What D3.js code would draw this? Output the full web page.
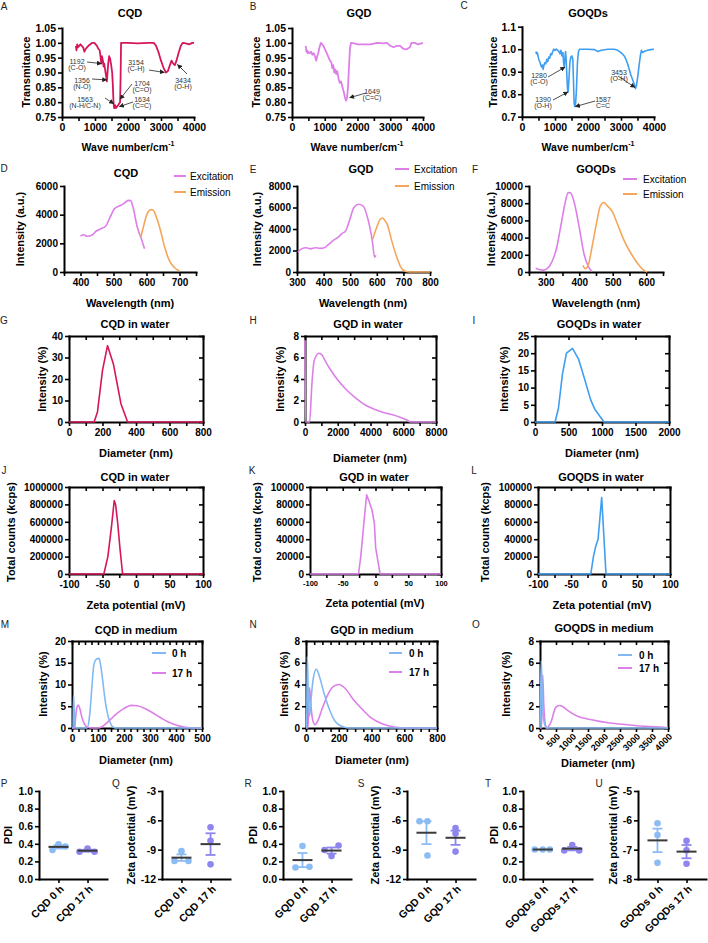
<!DOCTYPE html>
<html>
<head>
<meta charset="utf-8">
<title>Quantum dot characterisation</title>
<script src="https://d3js.org/d3.v7.min.js"></script>
<style>
  body { margin: 0; background: #fff; }
  svg text { font-family: "Liberation Sans", Arial, Helvetica, sans-serif; }
</style>
</head>
<body>
<div id="fig"></div>
<script>
// ---------- data ----------
// FTIR transmittance [wave number, T]
var cqdFtir = [[420,0.99],[440,0.975],[460,0.995],[480,0.985],[520,0.99],[560,0.995],[600,0.99],[640,0.985],[680,0.97],[720,0.98],[760,0.985],[800,0.99],[860,0.995],[920,1.0],[980,1.0],[1020,0.995],[1060,0.99],[1100,0.98],[1140,0.975],[1160,0.96],[1190,0.93],[1210,0.955],[1240,0.94],[1260,0.92],[1280,0.93],[1300,0.915],[1320,0.9],[1340,0.885],[1360,0.87],[1380,0.9],[1400,0.93],[1430,0.955],[1460,0.945],[1490,0.925],[1520,0.9],[1540,0.86],[1560,0.8],[1580,0.78],[1610,0.79],[1640,0.78],[1670,0.785],[1700,0.79],[1730,0.795],[1760,0.8],[1775,0.88],[1790,1.0],[2000,1.0],[2300,0.998],[2600,1.0],[2780,1.0],[2850,0.99],[2920,0.97],[3000,0.94],[3080,0.915],[3150,0.9],[3210,0.905],[3270,0.925],[3320,0.94],[3370,0.93],[3420,0.925],[3470,0.94],[3530,0.965],[3600,0.99],[3660,1.0],[3750,0.998],[3850,0.995],[3950,1.0],[4000,1.0]];
var gqdFtir = [[420,0.99],[440,0.97],[460,0.975],[480,0.965],[500,0.97],[540,0.965],[580,0.97],[620,0.96],[660,0.965],[700,0.955],[740,0.94],[770,0.955],[800,0.965],[840,0.985],[880,1.0],[920,0.995],[960,0.99],[1000,0.98],[1040,0.97],[1080,0.96],[1120,0.95],[1160,0.94],[1200,0.935],[1230,0.915],[1260,0.925],[1290,0.9],[1320,0.91],[1350,0.895],[1380,0.905],[1420,0.88],[1460,0.865],[1500,0.87],[1540,0.85],[1580,0.835],[1620,0.815],[1650,0.805],[1680,0.815],[1710,0.85],[1740,0.92],[1770,0.98],[1800,1.0],[1900,0.998],[2000,0.995],[2200,0.995],[2400,0.995],[2600,1.0],[2800,0.998],[2900,1.0],[3000,0.99],[3100,0.985],[3200,0.99],[3300,0.99],[3400,0.98],[3500,0.978],[3600,0.985],[3650,1.0],[3750,1.0],[3850,0.995],[4000,1.0]];
var goqdFtir = [[420,0.99],[440,0.98],[460,0.985],[480,0.975],[500,0.96],[520,0.95],[550,0.94],[580,0.925],[600,0.92],[620,0.93],[640,0.91],[660,0.925],[690,0.94],[720,0.935],[750,0.955],[780,0.945],[810,0.965],[840,0.96],[870,0.98],[900,0.975],[930,0.99],[960,1.0],[1000,0.995],[1040,1.0],[1080,0.995],[1120,0.99],[1150,0.98],[1180,0.995],[1210,0.97],[1240,0.985],[1260,0.94],[1280,0.92],[1300,0.96],[1320,0.99],[1340,0.95],[1360,0.88],[1380,0.82],[1400,0.81],[1420,0.86],[1450,0.94],[1480,0.965],[1510,0.97],[1540,0.955],[1560,0.86],[1580,0.76],[1600,0.745],[1620,0.75],[1650,0.82],[1680,0.94],[1710,0.99],[1750,1.0],[2000,1.0],[2200,0.998],[2300,0.99],[2400,0.995],[2600,1.0],[2800,1.0],[2900,0.995],[3000,0.985],[3100,0.97],[3150,0.955],[3200,0.935],[3250,0.91],[3300,0.885],[3350,0.865],[3400,0.845],[3440,0.825],[3470,0.84],[3510,0.88],[3550,0.93],[3590,0.975],[3620,0.995],[3660,0.985],[3700,0.99],[3800,0.995],[3900,0.998],[4000,1.0]];

// photoluminescence [wavelength nm, intensity a.u.]
var cqdExc = [[400,2510],[410,2600],[420,2490],[434,2560],[448,2860],[462,3020],[476,3190],[490,3840],[503,4420],[517,4600],[531,4770],[545,5000],[552,4980],[559,4530],[572,3140],[586,2210],[594,1630]];
var cqdEm = [[583,2440],[593,3370],[600,3950],[614,4350],[621,4300],[628,3950],[641,3020],[655,1740],[669,810],[683,350],[700,70]];
var gqdExc = [[303,1850],[317,2150],[334,2250],[351,2150],[368,2250],[386,2200],[403,2250],[420,2600],[437,2950],[454,3230],[470,3600],[482,3800],[497,4770],[514,6000],[531,6300],[548,6150],[565,5080],[583,2920],[592,1380],[597,1540]];
var gqdEm = [[585,3080],[596,3900],[605,4500],[613,4900],[622,5020],[630,4800],[639,4460],[656,2920],[673,1540],[690,460],[707,60],[724,0],[800,0]];
var goqdExc = [[270,450],[280,300],[292,220],[304,385],[318,1150],[333,2880],[346,5580],[357,7880],[367,9230],[374,9200],[385,8080],[400,5190],[414,2120],[428,580],[438,80]];
var goqdEm = [[411,770],[418,385],[428,960],[438,2880],[452,5770],[463,7690],[473,8080],[484,7690],[500,6920],[514,5580],[534,3650],[555,2120],[575,960],[593,190],[603,0]];

// DLS size distribution in water [diameter nm, intensity %]
var cqdWater = [[0,0],[150,0],[170,4.7],[200,24],[230,35.5],[265,27],[310,8.5],[350,0],[800,0]];
var gqdWater = [[0,7.6],[30,0],[280,0],[420,3.5],[560,5.7],[850,6.4],[1050,6.2],[1300,5.5],[1500,5.0],[2000,3.9],[2560,2.95],[3120,2.2],[3680,1.58],[4230,1.19],[4790,0.88],[5350,0.67],[5770,0.46],[6180,0.2],[6460,0],[8000,0]];
var goqdWater = [[0,0],[300,0],[350,4],[410,14],[470,20],[560,21.4],[650,18.3],[740,12.5],[830,6.5],[890,3.8],[1030,0],[2000,0]];

// zeta potential distribution [mV, total counts kcps]
var cqdZeta = [[-100,0],[-48,0],[-42,200000],[-36.5,550000],[-32.5,845000],[-30.5,800000],[-27.5,600000],[-24,300000],[-20,0],[100,0]];
var gqdZeta = [[-100,0],[-26,0],[-22.5,20000],[-17.6,60000],[-13.5,91000],[-10,84000],[-5.2,73000],[-1.7,58000],[0.3,30000],[7,0],[100,0]];
var goqdZeta = [[-100,0],[-20,0],[-16,20000],[-12.5,32000],[-9,40000],[-3.5,88000],[3,0],[100,0]];

// DLS size distribution in medium, 0 h and 17 h
var cqdMed0 = [[0,0],[4,0],[6,7.5],[9,3],[12,0],[58,0],[68,3],[76,9],[84,14.5],[92,15.7],[104,16],[110,14.5],[118,11],[126,7],[134,4],[145,1.5],[158,0.2],[168,0],[500,0]];
var cqdMed17 = [[0,0],[10,0],[14,2.5],[19,4.8],[24,5.3],[30,4.5],[38,2.5],[48,0.9],[60,0.2],[75,0],[100,0],[115,0.3],[140,1.5],[170,3.2],[200,4.5],[228,5.2],[250,5.1],[280,4.5],[310,3.5],[340,2.4],[370,1.4],[400,0.7],[430,0.25],[460,0.05],[480,0],[500,0]];
var gqdMed0 = [[0,0],[4,0],[8,6.6],[14,3],[22,1.1],[30,2.5],[45,4.6],[63,5.4],[83,4.7],[110,3.2],[138,1.9],[179,0.6],[235,0.06],[262,0],[800,0]];
var gqdMed17 = [[0,0],[12,0],[18,2.5],[22,3.7],[28,2.5],[40,0.8],[55,0.3],[70,0.6],[97,1.7],[138,3.2],[170,3.85],[200,4.0],[235,3.7],[290,2.6],[345,1.7],[400,0.9],[469,0.36],[538,0.09],[621,0],[800,0]];
var goqdMed0 = [[0,0],[15,2],[40,6.2],[70,3],[110,0.9],[160,0.2],[220,0],[4000,0]];
var goqdMed17 = [[0,0],[50,0],[84,4.9],[120,2],[170,0.3],[210,0],[280,0.2],[350,0.6],[490,1.9],[600,2.07],[720,1.95],[840,1.67],[1190,1.06],[1610,0.76],[2175,0.46],[2740,0.3],[3300,0.15],[3860,0.06],[4000,0.02]];

// PDI and zeta potential replicates (0 h, 17 h)
var pdiCqd = [[0.33,0.395,0.37],[0.31,0.345,0.31]];
var zetaCqd = [[-10.15,-9.15,-10.15],[-6.7,-8.1,-10.5]];
var pdiGqd = [[0.13,0.375,0.14],[0.33,0.26,0.38]];
var zetaGqd = [[-6.1,-6.1,-9.6],[-6.8,-7.35,-9.2]];
var pdiGoqd = [[0.335,0.335,0.335],[0.325,0.385,0.325]];
var zetaGoqd = [[-6.1,-6.5,-7.45],[-6.7,-7.02,-7.48]];

var catsCqd = ["CQD 0 h", "CQD 17 h"];
var catsGqd = ["GQD 0 h", "GQD 17 h"];
var catsGoqd = ["GOQDs 0 h", "GOQDs 17 h"];

// tick values and labels
var ftirXT = d3.range(0, 4001, 500), ftirXL = [0, 1000, 2000, 3000, 4000];
var ftirYT = [0.75, 0.8, 0.85, 0.9, 0.95, 1.0, 1.05];
var goqdFtirYT = [0.7, 0.8, 0.9, 1.0, 1.1];
var cqdPlXT = d3.range(350, 751, 50), cqdPlXL = [400, 500, 600, 700], cqdPlYT = [0, 2000, 4000, 6000];
var gqdPlXT = d3.range(300, 801, 100), gqdPlYT = [0, 2000, 4000, 6000, 8000];
var goqdPlXT = d3.range(250, 651, 50), goqdPlXL = [300, 400, 500, 600], goqdPlYT = [0, 2000, 4000, 6000, 8000, 10000];
var cqdWXT = d3.range(0, 801, 100), cqdWXL = [0, 200, 400, 600, 800], cqdWYT = [0, 10, 20, 30, 40];
var gqdWXT = d3.range(0, 8001, 1000), gqdWXL = [0, 2000, 4000, 6000, 8000], gqdWYT = [0, 2, 4, 6, 8];
var goqdWXT = [0, 500, 1000, 1500, 2000], goqdWYT = [0, 5, 10, 15, 20, 25];
var zetaXT = d3.range(-100, 101, 25), zetaXL = [-100, -50, 0, 50, 100];
var cqdZYT = [0, 200000, 400000, 600000, 800000, 1000000], zYT = [0, 20000, 40000, 60000, 80000, 100000];
var cqdMXT = d3.range(0, 501, 25), cqdMXL = [0, 100, 200, 300, 400, 500], cqdMYT = [0, 5, 10, 15, 20];
var gqdMXT = d3.range(0, 801, 50), gqdMXL = [0, 200, 400, 600, 800], medYT = [0, 2, 4, 6, 8];
var goqdMXT = d3.range(0, 4001, 500);
var pdiYT = [0, 0.2, 0.4, 0.6, 0.8, 1.0], zetaYT = [-12, -9, -6, -3], goqdZetaYT = [-8, -7, -6, -5];

// ---------- drawing ----------
var cCqd = "#d5165c", cGqd = "#dd7fe8", cGoqd = "#3f9ef0", cEm = "#f4a75b";
var c0h = "#82b9f2", dot0 = "#8cbcf4", dot17 = "#8e86ee";

var svg = d3.select("#fig").append("svg").attr("width", 708).attr("height", 943);
svg.append("rect").attr("width", 708).attr("height", 943).attr("fill", "#fff");
svg.append("defs").append("marker").attr("id", "ah").attr("viewBox", "0 0 10 10")
  .attr("refX", 9).attr("refY", 5).attr("markerWidth", 5).attr("markerHeight", 5)
  .attr("markerUnits", "userSpaceOnUse").attr("orient", "auto")
  .append("path").attr("d", "M0,0L10,5L0,10z").attr("fill", "#222");

function axisStyle(sel, fs) {
  sel.select(".domain").attr("stroke", "#000").attr("stroke-width", 2).attr("stroke-linecap", "square");
  sel.selectAll(".tick line").attr("stroke", "#000").attr("stroke-width", 1.6);
  sel.selectAll(".tick text").attr("fill", "#000").attr("font-size", fs).attr("font-weight", "bold");
}

function txt(x, y, s, fs, o) {
  o = o || {};
  var t = svg.append("text").attr("x", x).attr("y", y)
    .attr("text-anchor", o.anchor || "middle").attr("dominant-baseline", "central")
    .attr("font-size", fs).attr("font-weight", o.bold === false ? "normal" : "bold")
    .attr("fill", o.fill || "#000").text(s);
  if (o.rot) t.attr("transform", "rotate(-90," + x + "," + y + ")");
  return t;
}

function chart(p) {
  var x = d3.scaleLinear().domain(p.xd).range([p.l, p.r]);
  var y = d3.scaleLinear().domain(p.yd).range([p.b, p.t]);
  var g = svg.append("g");
  var fs = p.fs || 10;
  if (p.frame) {
    g.append("g").attr("transform", "translate(0," + p.t + ")")
      .call(d3.axisBottom(x).tickValues(p.xt).tickSize(4).tickSizeOuter(0).tickFormat(""))
      .call(axisStyle, fs);
    g.append("g").attr("transform", "translate(" + p.r + ",0)")
      .call(d3.axisLeft(y).tickValues(p.yt).tickSize(4).tickSizeOuter(0).tickFormat(""))
      .call(axisStyle, fs);
  }
  var xa = g.append("g").attr("transform", "translate(0," + p.b + ")")
    .call(d3.axisBottom(x).tickValues(p.xt).tickSize(4).tickSizeOuter(0).tickPadding(3)
      .tickFormat(function (d) { return p.xl.indexOf(d) >= 0 ? String(d) : ""; }))
    .call(axisStyle, p.xfs || fs);
  if (p.rot) {
    xa.selectAll(".tick text").attr("text-anchor", "end").attr("y", 0).attr("dy", "0.35em")
      .attr("transform", "translate(2,7) rotate(-45)");
  }
  g.append("g").attr("transform", "translate(" + p.l + ",0)")
    .call(d3.axisLeft(y).tickValues(p.yt).tickSize(4).tickSizeOuter(0).tickPadding(2)
      .tickFormat(p.yf || String))
    .call(axisStyle, fs);
  p.series.forEach(function (s) {
    g.append("path").datum(s.d).attr("fill", "none").attr("stroke", s.c)
      .attr("stroke-width", s.w || 1.6).attr("stroke-linejoin", "round")
      .attr("d", d3.line().x(function (d) { return x(d[0]); }).y(function (d) { return y(d[1]); })
        .curve(s.smooth ? d3.curveMonotoneX : d3.curveLinear));
  });
  (p.notes || []).forEach(function (n) {
    txt(n.tx, n.ty, n.a, 7, { bold: false, fill: "#333" });
    txt(n.tx, n.ty + 6.5, n.b, 7, { bold: false, fill: "#333" });
    svg.append("line").attr("x1", n.fx).attr("y1", n.fy)
      .attr("x2", x(n.tip[0])).attr("y2", y(n.tip[1]))
      .attr("stroke", "#222").attr("stroke-width", 0.8).attr("marker-end", "url(#ah)");
  });
  return { x: x, y: y };
}

function legend(items, x1, x2, tx, ys, bold) {
  items.forEach(function (it, i) {
    svg.append("line").attr("x1", x1).attr("x2", x2).attr("y1", ys[i]).attr("y2", ys[i])
      .attr("stroke", it[1]).attr("stroke-width", 2);
    txt(tx, ys[i], it[0], 10, { anchor: "start", bold: bold });
  });
}

function waveLabel(x, y) {
  var t = svg.append("text").attr("x", x).attr("y", y).attr("text-anchor", "middle")
    .attr("dominant-baseline", "central").attr("font-size", 10.5).attr("font-weight", "bold");
  t.append("tspan").text("Wave number/cm");
  t.append("tspan").attr("dy", -4).attr("font-size", 7).text("-1");
}

function dots(p) {
  var x = d3.scalePoint().domain(p.cats).range([p.l, p.r]).padding(0.67);
  var y = d3.scaleLinear().domain(p.yd).range([p.b, p.t]);
  var g = svg.append("g");
  g.append("g").attr("transform", "translate(0," + p.b + ")")
    .call(d3.axisBottom(x).tickSize(4).tickSizeOuter(0))
    .call(axisStyle, 10.5)
    .selectAll(".tick text").attr("text-anchor", "end").attr("y", 0).attr("dy", "0.35em")
    .attr("transform", "translate(3,8) rotate(-45)");
  g.append("g").attr("transform", "translate(" + p.l + ",0)")
    .call(d3.axisLeft(y).tickValues(p.yt).tickSize(4).tickSizeOuter(0).tickPadding(2).tickFormat(p.yf))
    .call(axisStyle, 10.5);
  p.groups.forEach(function (vals, i) {
    var cx = x(p.cats[i]), col = i === 0 ? dot0 : dot17;
    var m = d3.mean(vals), se = d3.deviation(vals) / Math.sqrt(vals.length);
    g.selectAll(null).data(vals).enter().append("circle")
      .attr("cx", function (d, j) { return cx + p.jit[i][j]; })
      .attr("cy", function (d) { return y(d); }).attr("r", 3.3).attr("fill", col);
    if (se > 0) {
      g.append("line").attr("x1", cx).attr("x2", cx).attr("y1", y(m + se)).attr("y2", y(m - se))
        .attr("stroke", col).attr("stroke-width", 1.8);
      [m + se, m - se].forEach(function (v) {
        g.append("line").attr("x1", cx - 5).attr("x2", cx + 5).attr("y1", y(v)).attr("y2", y(v))
          .attr("stroke", col).attr("stroke-width", 1.8);
      });
    }
    g.append("line").attr("x1", cx - 10).attr("x2", cx + 10).attr("y1", y(m)).attr("y2", y(m))
      .attr("stroke", "#3a3a3a").attr("stroke-width", 2);
  });
}

var f2 = d3.format(".2f"), f1 = d3.format(".1f");

// ---- row A-C: FTIR ----
chart({ l: 62, r: 194, t: 28, b: 117, xd: [0, 4000], yd: [0.75, 1.05], xt: ftirXT, xl: ftirXL, yt: ftirYT, yf: f2, fs: 10.5,
  series: [{ d: cqdFtir, c: cCqd, w: 1.8 }],
  notes: [
    { a: "1192", b: "(C-O)", tx: 77, ty: 61, fx: 87, fy: 62, tip: [1192, 0.93] },
    { a: "1356", b: "(N-O)", tx: 82, ty: 80, fx: 92, fy: 79, tip: [1356, 0.875] },
    { a: "1563", b: "(N-H/C-N)", tx: 85, ty: 99, fx: 105, fy: 98, tip: [1563, 0.795] },
    { a: "1704", b: "(C=O)", tx: 142, ty: 83, fx: 132, fy: 84, tip: [1760, 0.81] },
    { a: "1634", b: "(C=C)", tx: 142, ty: 99, fx: 133, fy: 102, tip: [1740, 0.785] },
    { a: "3154", b: "(C-H)", tx: 136, ty: 62, fx: 149, fy: 70, tip: [3100, 0.9] },
    { a: "3434", b: "(O-H)", tx: 183, ty: 80, fx: 187, fy: 74, tip: [3500, 0.927] }
  ] });
chart({ l: 292, r: 423, t: 28, b: 117, xd: [0, 4000], yd: [0.75, 1.05], xt: ftirXT, xl: ftirXL, yt: ftirYT, yf: f2, fs: 10.5,
  series: [{ d: gqdFtir, c: cGqd, w: 1.8 }],
  notes: [{ a: "1649", b: "(C=C)", tx: 372, ty: 91, fx: 366, fy: 93, tip: [1760, 0.815] }] });
chart({ l: 522, r: 654, t: 26.7, b: 116.7, xd: [0, 4000], yd: [0.7, 1.1], xt: ftirXT, xl: ftirXL, yt: goqdFtirYT, yf: f1, fs: 10.5,
  series: [{ d: goqdFtir, c: cGoqd, w: 1.6 }],
  notes: [
    { a: "1280", b: "(C-O)", tx: 539, ty: 75, fx: 548, fy: 77, tip: [1300, 0.92] },
    { a: "1390", b: "(O-H)", tx: 543, ty: 99, fx: 553, fy: 100, tip: [1390, 0.81] },
    { a: "1587", b: "C=C", tx: 603, ty: 99, fx: 595, fy: 101, tip: [1620, 0.745] },
    { a: "3453", b: "(O-H)", tx: 619, ty: 72, fx: 618, fy: 76, tip: [3420, 0.83] }
  ] });

// ---- row D-F: excitation / emission ----
chart({ l: 64, r: 196, t: 186, b: 272, xd: [350, 750], yd: [0, 6000], xt: cqdPlXT, xl: cqdPlXL, yt: cqdPlYT,
  series: [{ d: cqdExc, c: cGqd, smooth: true }, { d: cqdEm, c: cEm, smooth: true }] });
chart({ l: 297, r: 430, t: 186, b: 272, xd: [300, 800], yd: [0, 8000], xt: gqdPlXT, xl: gqdPlXT, yt: gqdPlYT,
  series: [{ d: gqdExc, c: cGqd, smooth: true }, { d: gqdEm, c: cEm, smooth: true }] });
chart({ l: 529, r: 663, t: 186, b: 272, xd: [250, 650], yd: [0, 10000], xt: goqdPlXT, xl: goqdPlXL, yt: goqdPlYT,
  series: [{ d: goqdExc, c: cGqd, smooth: true }, { d: goqdEm, c: cEm, smooth: true }] });

// ---- row G-I: size in water ----
chart({ l: 69, r: 203, t: 336, b: 422, frame: true, xd: [0, 800], yd: [0, 40], xt: cqdWXT, xl: cqdWXL, yt: cqdWYT,
  series: [{ d: cqdWater, c: cCqd }] });
chart({ l: 305, r: 436, t: 336, b: 422, frame: true, xd: [0, 8000], yd: [0, 8], xt: gqdWXT, xl: gqdWXL, yt: gqdWYT,
  series: [{ d: gqdWater, c: cGqd, smooth: true }] });
chart({ l: 535, r: 669, t: 336, b: 422, frame: true, xd: [0, 2000], yd: [0, 25], xt: goqdWXT, xl: goqdWXT, yt: goqdWYT,
  series: [{ d: goqdWater, c: cGoqd }] });

// ---- row J-L: zeta potential ----
chart({ l: 69, r: 203, t: 487, b: 574, frame: true, xd: [-100, 100], yd: [0, 1000000], xt: zetaXT, xl: zetaXL, yt: cqdZYT,
  series: [{ d: cqdZeta, c: cCqd }] });
chart({ l: 310, r: 441, t: 487, b: 574, frame: true, xd: [-100, 100], yd: [0, 100000], xt: zetaXT, xl: zetaXL, yt: zYT, xfs: 7.5,
  series: [{ d: gqdZeta, c: cGqd }] });
chart({ l: 538, r: 670, t: 487, b: 574, frame: true, xd: [-100, 100], yd: [0, 100000], xt: zetaXT, xl: zetaXL, yt: zYT,
  series: [{ d: goqdZeta, c: cGoqd }] });

// ---- row M-O: size in medium ----
chart({ l: 72, r: 202, t: 641, b: 728, frame: true, xd: [0, 500], yd: [0, 20], xt: cqdMXT, xl: cqdMXL, yt: cqdMYT,
  series: [{ d: cqdMed17, c: cGqd, smooth: true }, { d: cqdMed0, c: c0h, smooth: true }] });
chart({ l: 306, r: 437, t: 641, b: 728, frame: true, xd: [0, 800], yd: [0, 8], xt: gqdMXT, xl: gqdMXL, yt: medYT,
  series: [{ d: gqdMed17, c: cGqd, smooth: true }, { d: gqdMed0, c: c0h, smooth: true }] });
chart({ l: 540, r: 668, t: 641, b: 728, frame: true, rot: true, xd: [0, 4000], yd: [0, 8], xt: goqdMXT, xl: goqdMXT, yt: medYT, xfs: 9,
  series: [{ d: goqdMed17, c: cGqd, smooth: true }, { d: goqdMed0, c: c0h, smooth: true }] });

// ---- row P-U: PDI and zeta potential ----
dots({ l: 39, r: 107, t: 791, b: 879, cats: catsCqd, groups: pdiCqd, yd: [0, 1], yt: pdiYT, yf: f1, jit: [[-6, 0, 7], [-8, 0, 7]] });
dots({ l: 162, r: 230, t: 791, b: 879, cats: catsCqd, groups: zetaCqd, yd: [-12, -3], yt: zetaYT, yf: String, jit: [[-7, 0, 7], [0, 0, 0]] });
dots({ l: 283, r: 351, t: 791, b: 879, cats: catsGqd, groups: pdiGqd, yd: [0, 1], yt: pdiYT, yf: f1, jit: [[-7, 0, 7], [-7, 0, 7]] });
dots({ l: 407, r: 475, t: 791, b: 879, cats: catsGqd, groups: zetaGqd, yd: [-12, -3], yt: zetaYT, yf: String, jit: [[-7, 1, 1], [0, 0, 0]] });
dots({ l: 523, r: 592, t: 791, b: 879, cats: catsGoqd, groups: pdiGoqd, yd: [0, 1], yt: pdiYT, yf: f1, jit: [[-8, 0, 7], [-8, 0, 7]] });
dots({ l: 638, r: 706, t: 791, b: 879, cats: catsGoqd, groups: zetaGoqd, yd: [-8, -5], yt: goqdZetaYT, yf: String, jit: [[0, 0, 0], [0, 0, 0]] });

// ---- titles ----
[["CQD", 130, 13], ["GQD", 359, 13], ["GOQDs", 588, 13],
 ["CQD", 126, 173], ["GQD", 361, 169], ["GOQDs", 596, 169],
 ["CQD in water", 135, 324], ["GQD in water", 368, 324], ["GOQDs in water", 599, 324],
 ["CQD in water", 135, 477], ["GQD in water", 374, 477], ["GOQDS in water", 601, 477],
 ["CQD in medium", 136, 630], ["GQD in medium", 372, 630], ["GOQDS in medium", 604, 628]
].forEach(function (t) { txt(t[1], t[2], t[0], 11); });

// ---- panel letters ----
[["A", 4, 6], ["B", 253, 6], ["C", 464, 5], ["D", 4, 168], ["E", 253, 169], ["F", 475, 169],
 ["G", 4, 320], ["H", 253, 320], ["I", 474, 320], ["J", 4, 470], ["K", 252, 470], ["L", 474, 470],
 ["M", 5, 624], ["N", 253, 624], ["O", 476, 624],
 ["P", 4, 783], ["Q", 116, 783], ["R", 248, 783], ["S", 361, 783], ["T", 488, 783], ["U", 599, 783]
].forEach(function (t) { txt(t[1], t[2], t[0], 10, { bold: false, fill: "#222" }); });

// ---- axis titles ----
waveLabel(128, 147); waveLabel(357, 147); waveLabel(588, 147);
[["Wavelength (nm)", 130, 303], ["Wavelength (nm)", 363, 303], ["Wavelength (nm)", 596, 303],
 ["Diameter (nm)", 136, 453], ["Diameter (nm)", 370, 458], ["Diameter (nm)", 602, 453],
 ["Zeta potential (mV)", 136, 605], ["Zeta potential (mV)", 375, 603], ["Zeta potential (mV)", 602, 605],
 ["Diameter (nm)", 136, 760], ["Diameter (nm)", 372, 760], ["Diameter (nm)", 598, 763]
].forEach(function (t) { txt(t[1], t[2], t[0], 11); });
[["Transmitance", 26, 72], ["Transmitance", 256, 72], ["Transmitance", 493, 72],
 ["Intensity  (a.u.)", 20, 229], ["Intensity  (a.u.)", 257, 229], ["Intensity  (a.u.)", 491, 229],
 ["Intensity (%)", 42, 379], ["Intensity (%)", 280, 379], ["Intensity (%)", 504, 379],
 ["Total counts  (kcps)", 11, 532], ["Total counts (kcps)", 257, 532], ["Total counts  (kcps)", 485, 532],
 ["Intensity (%)", 43, 684], ["Intensity (%)", 284, 684], ["Intensity (%)", 506, 684],
 ["PDI", 8, 835], ["Zeta potential (mV)", 131, 835], ["PDI", 253, 835],
 ["Zeta potential (mV)", 375, 835], ["PDI", 494, 835], ["Zeta potential (mV)", 613, 835]
].forEach(function (t) { txt(t[1], t[2], t[0], 11, { rot: true }); });

// ---- legends ----
legend([["Excitation", cGqd], ["Emission", cEm]], 174, 186, 190, [176, 192], false);
legend([["Excitation", cGqd], ["Emission", cEm]], 395, 409, 414, [169, 186], false);
legend([["Excitation", cGqd], ["Emission", cEm]], 623, 637, 643, [179, 194], false);
legend([["0 h", c0h], ["17 h", cGqd]], 152, 166, 172, [653, 673], true);
legend([["0 h", c0h], ["17 h", cGqd]], 389, 402, 409, [653, 672], true);
legend([["0 h", c0h], ["17 h", cGqd]], 618, 632, 639, [655, 668], true);
</script>
</body>
</html>
